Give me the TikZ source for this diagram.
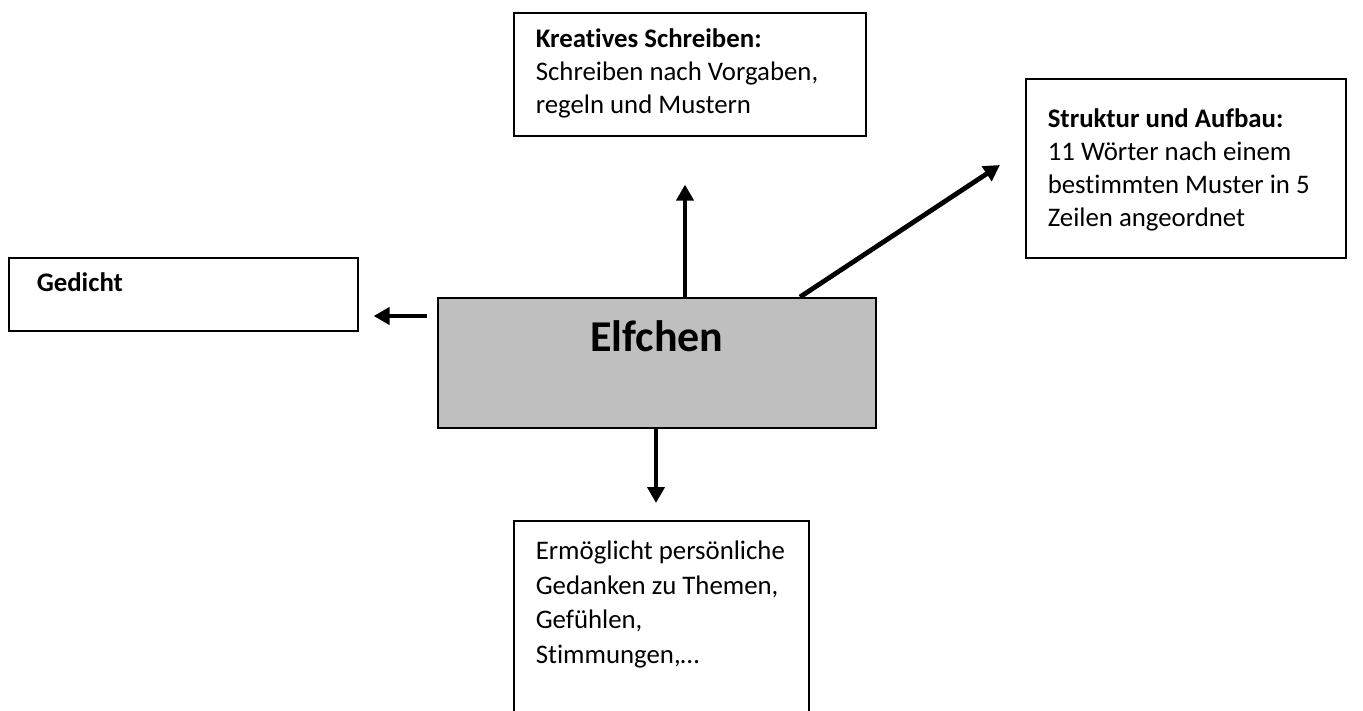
\documentclass[tikz,border=0pt]{standalone}
\usepackage{fontspec}
\setmainfont[Ligatures=NoCommon]{Carlito}
\usetikzlibrary{arrows.meta,calc}
\definecolor{boxgray}{RGB}{191,191,191}
\newcommand{\boxtxt}[4]{\parbox[c][#2][t]{#1}{\vspace*{#3}\raggedright\leftskip=22pt\relax\strut #4}}
\begin{document}
\begin{tikzpicture}[x=1pt,y=-1pt,
  font=\fontsize{26.8pt}{33pt}\selectfont,
  tbox/.style={draw, line width=1.6pt, anchor=north west, inner sep=0pt},
  arr/.style={line width=4.8pt, -{Triangle[length=16pt,width=17pt]}}]
\useasboundingbox (0,0) rectangle (1363,711);
\clip (-5,-5) rectangle (1368,711);
\node[tbox] (K) at (513,12) {\boxtxt{352pt}{123pt}{12pt}{\textbf{Kreatives Schreiben:}\\ Schreiben nach Vorgaben,\\ regeln und Mustern}};
\node[tbox] (S) at (1025,78) {\boxtxt{320pt}{179pt}{26pt}{\textbf{Struktur und Aufbau:}\\ 11 Wörter nach einem\\ bestimmten Muster in 5\\ Zeilen angeordnet}};
\node[tbox] (G) at (8,257) {\boxtxt{349pt}{73pt}{11pt}{\hspace*{6pt}\textbf{Gedicht}}};
\node[tbox, fill=boxgray] (E) at (437,297) {\parbox[c][130pt][t]{438pt}{\vspace*{21pt}\centering\fontsize{44pt}{47pt}\selectfont\strut\textbf{Elfchen}}};
\node[tbox] (B) at (513,520) {\parbox[c][220pt][t]{295pt}{\vspace*{16pt}\raggedright\leftskip=22pt\relax\baselineskip=34.5pt\strut Ermöglicht persönliche\\ Gedanken zu Themen,\\ Gefühlen,\\ Stimmungen,…}};
\coordinate (upx) at (685,0);
\coordinate (dx) at (800,0);
\coordinate (dtip) at (1000,165);
\coordinate (ly) at (0,316);
\coordinate (dnx) at (656,0);
\draw[arr] (E.north -| upx) -- ($(K.south -| upx)+(0,48)$);
\draw[arr] (E.north -| dx) -- (dtip);
\draw[arr] ($(E.west |- ly)+(-10,0)$) -- ($(G.east |- ly)+(15,0)$);
\draw[arr] (E.south -| dnx) -- ($(B.north -| dnx)+(0,-17)$);
\end{tikzpicture}
\end{document}
